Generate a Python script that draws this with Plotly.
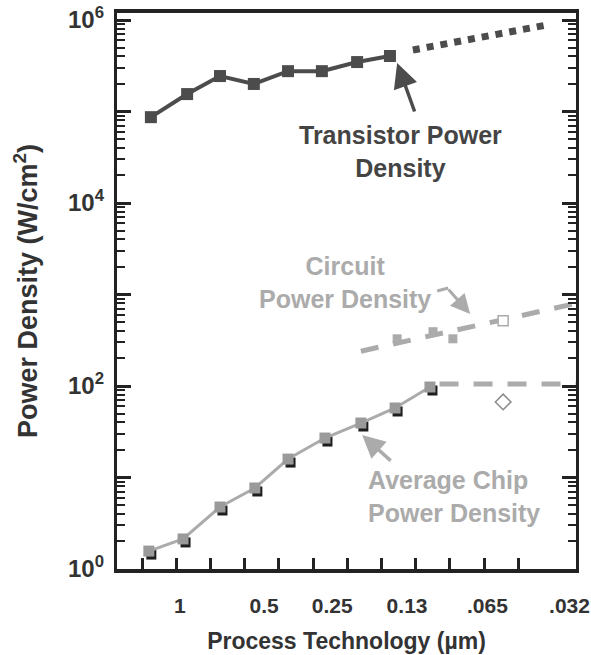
import plotly.graph_objects as go

# ---------------- data ----------------
# x positions are process-generation slots (bottom-axis tick index)
trans_x = [0.26, 1.32, 2.28, 3.27, 4.27, 5.26, 6.29, 7.25]
trans_y = [86700, 155000, 244000, 200000, 276000, 276000, 347000, 404000]
trans_proj_x = [7.92, 11.75]
trans_proj_y = [470000, 870000]

circ_line_x = [6.4, 12.7]
circ_line_y = [240, 800]
circ_pts_x = [7.46, 8.51, 9.09]
circ_pts_y = [328, 392, 328]
circ_open_x = [10.56]
circ_open_y = [518]

chip_x = [0.20, 1.20, 2.28, 3.30, 4.27, 5.35, 6.40, 7.40, 8.42]
chip_y = [1.57, 2.13, 4.76, 7.68, 15.9, 27.0, 39.4, 57.5, 97.5]
chip_proj_x = [8.7, 12.7]
chip_proj_y = [105, 105]
chip_open_x = [10.56]
chip_open_y = [67]

x_tick_slots = list(range(12))
x_label_pos = [1.11, 3.57, 5.56, 7.75, 10.1, 12.5]
x_labels = ["1", "0.5", "0.25", "0.13", ".065", ".032"]

y_major = [1, 10, 100, 1000, 10000, 100000, 1000000]
y_label_vals = [1, 100, 10000, 1000000]
y_label_text = ["10<sup>0</sup>", "10<sup>2</sup>", "10<sup>4</sup>", "10<sup>6</sup>"]
y_minor = [m * 10 ** k for k in range(6) for m in range(2, 10)]

# ---------------- style ----------------
FONT = "Liberation Sans, Arial, sans-serif"
DARK = "#4c4c4c"
LIGHT = "#ababab"
TXT = "#333333"

XR = [-0.731, 12.69]
YR = [0, 6.0765]
# shadow offset (px) for the chip markers
sx, sy = 2.5 / 34.18, 3.5 / 91.5

fig = go.Figure()

# Transistor
fig.add_trace(go.Scatter(x=trans_x, y=trans_y, mode="lines+markers",
                         line=dict(color=DARK, width=4),
                         marker=dict(symbol="square", size=12, color=DARK)))
fig.add_trace(go.Scatter(x=trans_proj_x, y=trans_proj_y, mode="lines",
                         line=dict(color=DARK, width=7, dash="7px,7px")))

# Circuit
fig.add_trace(go.Scatter(x=circ_line_x, y=circ_line_y, mode="lines",
                         line=dict(color=LIGHT, width=5, dash="18px,15px")))
fig.add_trace(go.Scatter(x=circ_pts_x, y=circ_pts_y, mode="markers",
                         marker=dict(symbol="square", size=9, color=LIGHT)))
fig.add_trace(go.Scatter(x=circ_open_x, y=circ_open_y, mode="markers",
                         marker=dict(symbol="square", size=10, color="white",
                                     line=dict(color=LIGHT, width=1.5))))

# Average chip
fig.add_trace(go.Scatter(x=chip_proj_x, y=chip_proj_y, mode="lines",
                         line=dict(color=LIGHT, width=5, dash="19px,15px")))
fig.add_trace(go.Scatter(x=chip_open_x, y=chip_open_y, mode="markers",
                         marker=dict(symbol="diamond-open", size=12, color="#8a8a8a",
                                     line=dict(width=1.5))))
# shadow (same data, axes shifted by a few pixels)
fig.add_trace(go.Scatter(x=chip_x, y=chip_y, mode="markers",
                         marker=dict(symbol="square", size=10, color="#1e1e1e"),
                         xaxis="x3", yaxis="y3"))
fig.add_trace(go.Scatter(x=chip_x, y=chip_y, mode="lines+markers",
                         line=dict(color=LIGHT, width=3),
                         marker=dict(symbol="square", size=11, color="#9a9a9a"),
                         xaxis="x4", yaxis="y4"))

# helper traces to activate label axes
fig.add_trace(go.Scatter(x=[None], y=[None], xaxis="x2", yaxis="y"))
fig.add_trace(go.Scatter(x=[None], y=[None], xaxis="x", yaxis="y2"))


def px2x(p):
    return (p - 142) / 34.18


def px2logy(p):
    return (569 - p) / 91.5


ANN_SIZE = 25
ann = []
ann.append(dict(x=px2x(400), y=px2logy(151), xref="x", yref="y",
                text="Transistor Power<br>Density", showarrow=False,
                font=dict(family=FONT, size=ANN_SIZE, color="#444444", weight="bold")))
ann.append(dict(x=px2x(397), y=px2logy(63), xref="x", yref="y", text="", showarrow=True,
                ax=18, ay=50, arrowhead=2, arrowsize=1.4, arrowwidth=3.5, arrowcolor=DARK))
ann.append(dict(x=px2x(345), y=px2logy(282), xref="x", yref="y",
                text="Circuit<br>Power Density", showarrow=False,
                font=dict(family=FONT, size=ANN_SIZE, color=LIGHT, weight="bold")))
ann.append(dict(x=px2x(470), y=px2logy(314), xref="x", yref="y", text="",
                showarrow=True, ax=-23, ay=-26, arrowhead=2, arrowsize=1.3,
                arrowwidth=3, arrowcolor=LIGHT))
ann.append(dict(x=px2x(366), y=px2logy(496), xref="x", yref="y",
                text="Average Chip<br>Power Density", showarrow=False,
                xanchor="left", align="left",
                font=dict(family=FONT, size=ANN_SIZE, color=LIGHT, weight="bold")))
ann.append(dict(x=px2x(362), y=px2logy(435), xref="x", yref="y", text="",
                showarrow=True, ax=30, ay=27, arrowhead=2, arrowsize=1.3,
                arrowwidth=3.5, arrowcolor=LIGHT))

fig.update_layout(
    width=591, height=655,
    margin=dict(l=117, r=15, t=13, b=86, autoexpand=False),
    paper_bgcolor="white", plot_bgcolor="white",
    showlegend=False,
    font=dict(family=FONT, color=TXT),
    annotations=ann,
    shapes=[dict(type="line", xref="x", yref="y",
                 x0=px2x(437), y0=10 ** px2logy(291), x1=px2x(448), y1=10 ** px2logy(288),
                 line=dict(color=LIGHT, width=3))],
    xaxis=dict(range=XR, showgrid=False, zeroline=False, automargin=False,
               tickvals=x_tick_slots, showticklabels=False,
               ticks="inside", ticklen=11, tickwidth=2.5, tickcolor="#222",
               showline=True, linewidth=3.5, linecolor="#222", mirror=True),
    xaxis2=dict(range=XR, overlaying="x", anchor="y", side="bottom", automargin=False,
                showgrid=False, zeroline=False, showline=False, ticks="",
                tickvals=x_label_pos, ticktext=x_labels, ticklabelstandoff=22,
                tickfont=dict(family=FONT, size=21, color=TXT, weight="bold"),
                title=dict(text="Process Technology (µm)", standoff=16,
                           font=dict(family=FONT, size=23, color=TXT, weight="bold"))),
    xaxis3=dict(range=[XR[0] - sx, XR[1] - sx], overlaying="x", anchor="y3",
                visible=False),
    xaxis4=dict(range=XR, overlaying="x", anchor="y4", visible=False),
    yaxis=dict(type="log", range=YR, showgrid=False, zeroline=False, automargin=False,
               tickvals=y_major, showticklabels=False,
               ticks="inside", ticklen=14, tickwidth=2.5, tickcolor="#222",
               showline=True, linewidth=3, linecolor="#222", mirror="ticks",
               minor=dict(tickvals=y_minor, ticks="inside", ticklen=8,
                          tickwidth=2, tickcolor="#222")),
    yaxis2=dict(type="log", range=YR, overlaying="y", anchor="x", side="left",
                automargin=False, showgrid=False, zeroline=False, showline=False,
                ticks="", tickvals=y_label_vals, ticktext=y_label_text,
                ticklabelstandoff=12,
                tickfont=dict(family=FONT, size=24, color=TXT, weight="bold"),
                title=dict(text="Power Density (W/cm<sup>2</sup>)", standoff=22,
                           font=dict(family=FONT, size=27, color=TXT, weight="bold"))),
    yaxis3=dict(type="log", range=[YR[0] + sy, YR[1] + sy], overlaying="y",
                anchor="x3", visible=False),
    yaxis4=dict(type="log", range=YR, overlaying="y", anchor="x4", visible=False),
)

fig.write_html("out.html", config={"displayModeBar": False},
               post_script="document.body.style.margin='0';")
